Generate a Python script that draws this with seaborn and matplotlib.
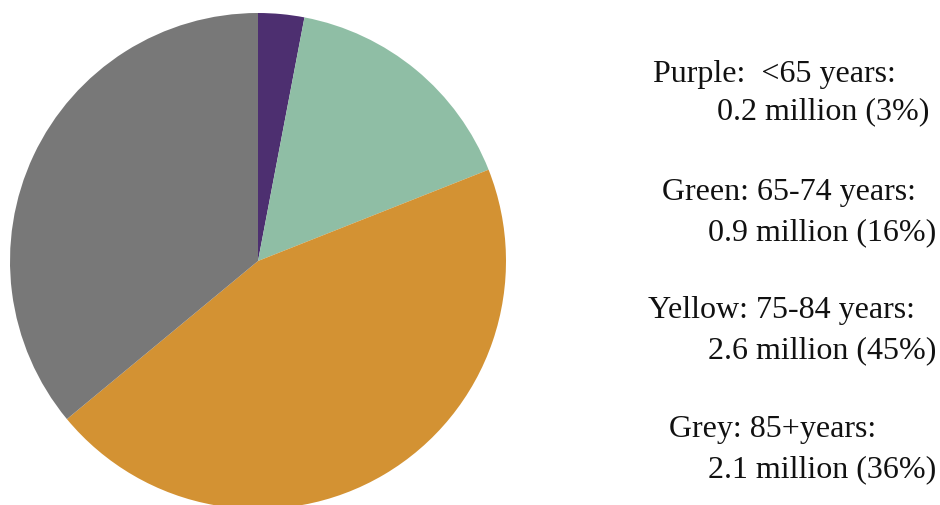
import numpy as np
import matplotlib
matplotlib.use("Agg")
import matplotlib.pyplot as plt
import seaborn as sns

# data
colour_names = ["Purple", "Green", "Yellow", "Grey"]
age_groups = [" <65 years:", "65-74 years:", "75-84 years:", "85+years:"]
millions = [0.2, 0.9, 2.6, 2.1]
percents = [3, 16, 45, 36]
colors = ["#4d2f70", "#8fbea5", "#d39233", "#787878"]

sns.set_theme(style="white")
plt.rcParams["font.family"] = ["Liberation Serif", "DejaVu Serif"]

W, H = 940, 506
fig = plt.figure(figsize=(W / 100, H / 100), dpi=100)
fig.patch.set_facecolor("white")

# pie: centre (258, 262) px, radius 248 px
cx, cy, r = 258, 262, 248
ax = fig.add_axes([(cx - r) / W, 1 - (cy + r) / H, 2 * r / W, 2 * r / H])
ax.pie(percents, colors=sns.color_palette(colors), startangle=90,
       counterclock=False, wedgeprops=dict(linewidth=0))
ax.set_xlim(-1, 1)
ax.set_ylim(-1, 1)
ax.set_aspect("equal")
ax.axis("off")

# legend text on the right (pixel positions of baselines)
head_x = [653, 662, 648, 669]
value_x = [717, 708, 708, 708]
head_y = [82, 200, 318, 437]
value_y = [119, 240, 358, 477]
for i in range(len(colour_names)):
    head = f"{colour_names[i]}: {age_groups[i]}"
    val = f"{millions[i]:.1f} million ({percents[i]}%)"
    fig.text(head_x[i] / W, 1 - head_y[i] / H, head, fontsize=23,
             ha="left", va="baseline", color="#111111")
    fig.text(value_x[i] / W, 1 - value_y[i] / H, val, fontsize=23,
             ha="left", va="baseline", color="#111111")

fig.savefig("out.png", dpi=100, facecolor="white")
